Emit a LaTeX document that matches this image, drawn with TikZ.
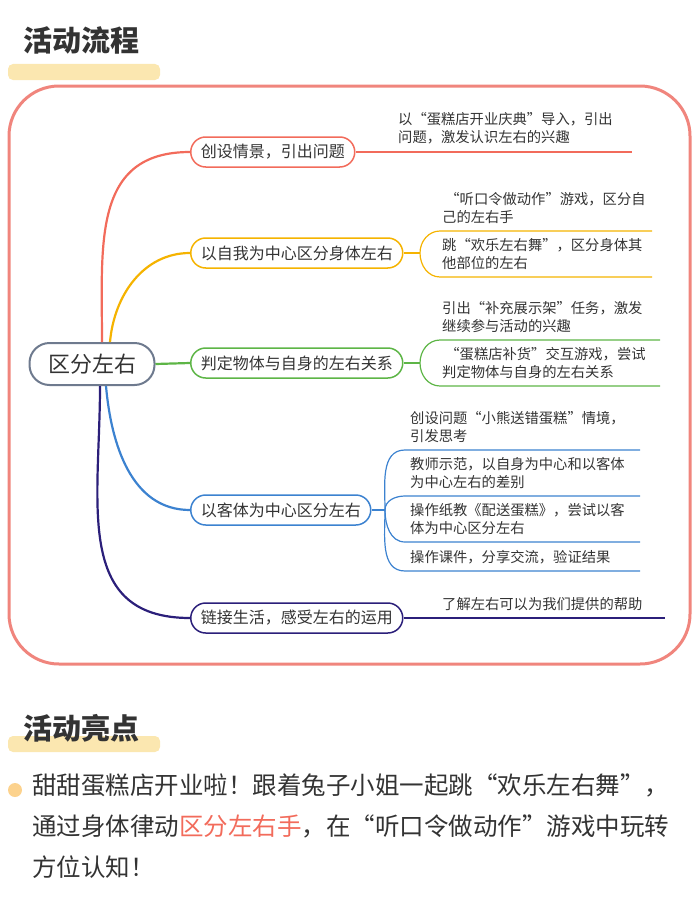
\documentclass[tikz,border=0pt]{standalone}
\usepackage{fontspec}
\setmainfont{Noto Sans CJK SC}
\usetikzlibrary{calc}
\usetikzlibrary{positioning}
\definecolor{cframe}{HTML}{F0857D}
\definecolor{cred}{HTML}{F26B5B}
\definecolor{corange}{HTML}{F5B300}
\definecolor{cgreen}{HTML}{5DB546}
\definecolor{cblue}{HTML}{3C82D0}
\definecolor{cnavy}{HTML}{2B1F7A}
\definecolor{croot}{HTML}{6E7A8E}
\definecolor{cbar}{HTML}{FBE7B0}
\definecolor{ctext}{HTML}{333333}
\tikzstyle{topnode} = [draw, rounded corners=15pt, line width=1.5pt, minimum height=30pt, inner xsep=10pt, font=\fontsize{16}{18}\selectfont, text=ctext]
\tikzstyle{rootnode} = [draw=croot, rounded corners=20pt, line width=2pt, minimum height=42pt, minimum width=125pt, font=\fontsize{22}{24}\selectfont, text=ctext]
\tikzstyle{leaf} = [anchor=south west, align=left, inner sep=2pt, font=\fontsize{14.3}{18}\selectfont, text=ctext]
\tikzstyle{branch} = [line width=2.2pt]
\tikzstyle{title} = [anchor=west, font=\fontsize{29}{32}\selectfont\bfseries, text=ctext]

\begin{document}
\begin{tikzpicture}[x=1pt, y=-1pt]
  \useasboundingbox (0,0) rectangle (700,899);

  % section titles
  \fill[cbar, rounded corners=5pt] (8,64) rectangle (160,80);
  \node[title] (t1) at (20,40) {活动流程};
  \fill[cbar, rounded corners=5pt] (8,736) rectangle (160,752);
  \node[title] (t2) at (20,728) {活动亮点};

  % frame
  \draw[cframe, line width=3pt, rounded corners=50pt] (9,86) rectangle (690,664);

  \node[rootnode] (root) at (92,364) {区分左右};

  \node[topnode, draw=cred, anchor=west] (s1) at (190,152) {创设情景，引出问题};
  \node[topnode, draw=corange, anchor=west] (s2) at (190,253) {以自我为中心区分身体左右};
  \node[topnode, draw=cgreen, anchor=west] (s3) at (190,363) {判定物体与自身的左右关系};
  \node[topnode, draw=cblue, anchor=west] (s4) at (190,510) {以客体为中心区分左右};
  \node[topnode, draw=cnavy, anchor=west] (s5) at (190,618) {链接生活，感受左右的运用};

  % main branches
  \draw[branch, cred] ($(root.north)+(10,0)$) to[out=90, in=180, looseness=1.2] (s1.west);
  \draw[branch, corange] ($(root.north)+(18,0)$) to[out=85, in=180] (s2.west);
  \draw[branch, cgreen] (root.east) -- (s3.west);
  \draw[branch, cblue] ($(root.south)+(14,0)$) to[out=-85, in=180] (s4.west);
  \draw[branch, cnavy] ($(root.south)+(8,0)$) to[out=-90, in=180, looseness=1.2] (s5.west);

  % branch 1
  \coordinate (e1) at (632,152);
  \draw[cred, line width=1.2pt] (s1.east) -- (e1);
  \node[leaf] (l1) at (396,146) {以“蛋糕店开业庆典”导入，引出\\问题，激发认识左右的兴趣};

  % branch 2
  \coordinate (k2) at (420,253);
  \coordinate (a2) at (440,231);
  \coordinate (b2) at (440,277);
  \draw[corange, line width=1.2pt] (s2.east) -- (k2);
  \draw[corange, line width=1.2pt] (k2) to[out=90, in=180] (a2) -- (652,231);
  \draw[corange, line width=1.2pt] (k2) to[out=-90, in=180] (b2) -- (652,277);
  \node[leaf] (l2a) at (440,226) {\ “听口令做动作”游戏，区分自\\己的左右手};
  \node[leaf] (l2b) at (440,272) {跳“欢乐左右舞”，区分身体其\\他部位的左右};

  % branch 3
  \coordinate (k3) at (420,363);
  \coordinate (a3) at (440,340);
  \coordinate (b3) at (440,386);
  \draw[cgreen, line width=1.2pt] (s3.east) -- (k3);
  \draw[cgreen, line width=1.2pt] (k3) to[out=90, in=180] (a3) -- (660,340);
  \draw[cgreen, line width=1.2pt] (k3) to[out=-90, in=180] (b3) -- (660,386);
  \node[leaf] (l3a) at (440,335) {引出“补充展示架”任务，激发\\继续参与活动的兴趣};
  \node[leaf] (l3b) at (440,381) {\ “蛋糕店补货”交互游戏，尝试\\判定物体与自身的左右关系};

  % branch 4
  \coordinate (k4) at (385,510);
  \draw[cblue, line width=1.2pt] (s4.east) -- (k4);
  \foreach \y/\e in {450/a, 496/b, 542/c, 571/d} {
    \coordinate (\e4) at (405,\y);
    \draw[cblue, line width=1.2pt] (k4) to[out={\y<510 ? 90 : -90}, in=180] (\e4) -- (640,\y);
  }
  \node[leaf] (l4a) at (408,445) {创设问题“小熊送错蛋糕”情境，\\引发思考};
  \node[leaf] (l4b) at (408,491) {教师示范，以自身为中心和以客体\\为中心左右的差别};
  \node[leaf] (l4c) at (408,537) {操作纸教《配送蛋糕》，尝试以客\\体为中心区分左右};
  \node[leaf] (l4d) at (408,566) {操作课件，分享交流，验证结果};

  % branch 5
  \coordinate (e5) at (665,618);
  \draw[cnavy, line width=1.2pt] (s5.east) -- (e5);
  \node[leaf] (l5) at (440,613) {了解左右可以为我们提供的帮助};

  % highlight text
  \fill[cbar!80!orange] (15,790) circle (7pt);
  \node[anchor=north west, align=left, inner sep=0pt,
        font=\fontsize{24.5}{41}\selectfont, text=ctext] (body) at (32,774)
    {甜甜蛋糕店开业啦！跟着兔子小姐一起跳“欢乐左右舞”，\\通过身体律动\textcolor{cred}{区分左右手}，在“听口令做动作”游戏中玩转\\方位认知！};
\end{tikzpicture}
\end{document}
